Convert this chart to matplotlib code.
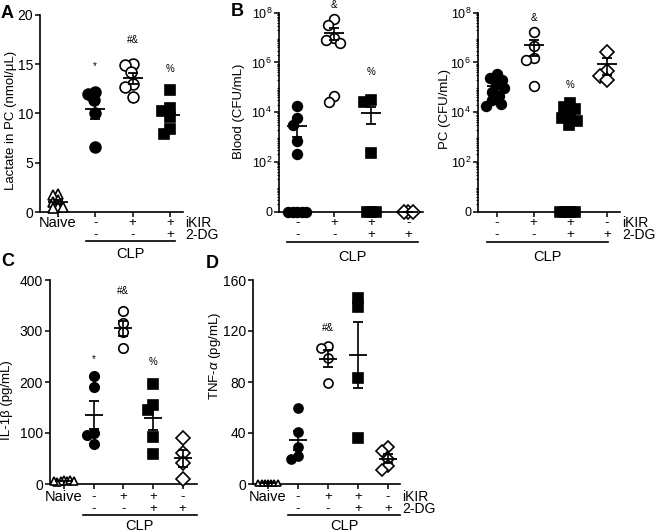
import numpy as np
import matplotlib
matplotlib.use("Agg")
import matplotlib.pyplot as plt
from matplotlib.transforms import blended_transform_factory, ScaledTranslation
from matplotlib.ticker import FixedLocator

plt.rcParams["font.family"] = ["Liberation Sans", "DejaVu Sans"]
plt.rcParams["mathtext.fontset"] = "custom"
plt.rcParams["mathtext.rm"] = "Liberation Sans"
plt.rcParams["mathtext.it"] = "Liberation Sans:italic"
plt.rcParams["mathtext.default"] = "regular"

# A: lactate in peritoneal cavity (nmol/uL)
A_naive = [1.8, 1.7, 1.2, 1.0, 0.5, 0.5, 0.4]
A_clp = [12.2, 12.0, 11.4, 10.0, 6.6]
A_ikir = [15.0, 14.9, 14.2, 13.0, 12.7, 11.7]
A_ikir_2dg = [12.4, 10.6, 10.3, 9.6, 8.4, 7.9]

# B: bacterial counts (CFU/mL), 0 = no growth
blood_clp = [1.7e4, 5.9e3, 3.2e3, 690, 200, 0, 0, 0, 0, 0]
blood_ikir = [5.4e7, 3.2e7, 9.3e6, 8e6, 5.9e6, 4.4e4, 2.5e4]
blood_ikir_2dg = [3.2e4, 2.5e4, 220, 0, 0, 0]
blood_2dg = [0, 0, 0]

pc_clp = [3.5e5, 2.3e5, 2.0e5, 1.2e5, 9e4, 6.5e4, 4.5e4, 3e4, 2.2e4, 1.8e4]
pc_ikir = [1.7e7, 4.5e6, 1.5e6, 1.2e6, 1.1e5]
pc_ikir_2dg = [2.4e4, 1.6e4, 1.3e4, 6.9e3, 5.9e3, 4.4e3, 3.2e3, 0, 0, 0, 0]
pc_2dg = [2.7e6, 4.4e5, 2.8e5, 1.9e5]

# C: IL-1b (pg/mL)
C_naive = [8, 6, 5, 7, 4, 6, 5]
C_clp = [212, 190, 100, 97, 78]
C_ikir = [340, 315, 298, 267]
C_ikir_2dg = [196, 155, 145, 92, 59]
C_2dg = [90, 60, 42, 10]

# D: TNF-a (pg/mL)
D_naive = [0.5, 0.5, 0.5, 0.5, 0.5, 0.5, 0.5]
D_clp = [60, 41, 29, 22, 20]
D_ikir = [108, 107, 99, 79]
D_ikir_2dg = [146, 139, 83, 36]
D_2dg = [29, 26, 20, 14, 11]

ikir_row = ["-", "+", "+", "-"]
dg_row = ["-", "-", "+", "+"]

# significance marks: (group index, text, height)
A_marks = [(1, "*", 14.8), (2, "#&", 17.5), (3, "%", 14.5)]
blood_marks = [(1, "&", 2.0e8), (2, "%", 4e5)]
pc_marks = [(1, "&", 6.3e7), (2, "%", 1.2e5)]
C_marks = [(1, "*", 244), (2, "#&", 379), (3, "%", 240)]
D_marks = [(2, "#&", 122)]

STYLE = {"tri": ("^", "white"), "fc": ("o", "black"), "oc": ("o", "white"),
         "fs": ("s", "black"), "od": ("D", "white")}

W, H = 659, 532
fig = plt.figure(figsize=(W / 100, H / 100), dpi=100)


def add_axes(l, t, r, b):
    ax = fig.add_axes([l / W, 1 - b / H, (r - l) / W, (b - t) / H])
    for s in ("top", "right"):
        ax.spines[s].set_visible(False)
    for s in ("left", "bottom"):
        ax.spines[s].set_linewidth(1.2)
    ax.tick_params(direction="out", length=3.5, width=1.1, labelsize=10, pad=1.5)
    ax.tick_params(which="minor", direction="out", length=1.8, width=0.8)
    return ax


def below(ax, dy, xdata=True):
    base = blended_transform_factory(ax.transData if xdata else ax.transAxes, ax.transAxes)
    return base + ScaledTranslation(0, -dy / 100, fig.dpi_scale_trans)


def swarm(ax, x0, ys, gap):
    if len(ys) == 0:
        return np.array([])
    pts = ax.transData.transform(np.column_stack([np.full(len(ys), x0), ys]))
    placed = []
    for px, py in pts:
        ivs = []
        for qx, qy in placed:
            dy = abs(py - qy)
            if dy < gap:
                w = np.sqrt(gap ** 2 - dy ** 2)
                ivs.append((qx - w, qx + w))
        cands = [px] + [e for iv in ivs for e in iv]
        cands.sort(key=lambda c: abs(c - px))
        for c in cands:
            if all(not (a + 1e-6 < c < b - 1e-6) for a, b in ivs):
                break
        placed.append((c, py))
    return ax.transData.inverted().transform(np.array(placed))[:, 0]


def draw_groups(ax, groups, ms, gap, mean_w, zero_gap=None, naive_ms=None, naive_gap=4):
    for i, (vals, kind) in enumerate(groups):
        marker, face = STYLE[kind]
        vals = np.asarray(vals, float)
        g = naive_gap if kind == "tri" else gap
        size = (naive_ms or ms) if kind == "tri" else ms
        xs = np.zeros(len(vals))
        nz = vals > 0 if zero_gap else np.ones(len(vals), bool)
        if nz.any():
            xs[nz] = swarm(ax, i, vals[nz], g)
        if (~nz).any():
            xs[~nz] = swarm(ax, i, vals[~nz], zero_gap)
        ax.plot(xs, vals, ls="none", marker=marker, ms=size, mfc=face, mec="black",
                mew=1.2, clip_on=False, zorder=3)
        mean = vals.mean()
        sem = vals.std(ddof=1) / np.sqrt(len(vals))
        ax.errorbar(i, mean, yerr=sem, fmt="_", ms=mean_w, mew=1.3, color="black",
                    elinewidth=1.2, capsize=3.5, capthick=1.2, zorder=4, clip_on=False)


def labels(ax, first, rows, dys, clp, right_labels=True):
    n = len(rows[0]) + first
    ax.set_xticks(range(n))
    ax.set_xticklabels([])
    if first:
        ax.text(0, 0, "Naive", transform=below(ax, dys[0]), ha="center", va="center", fontsize=10.5)
    for r, row in enumerate(rows):
        for j, t in enumerate(row):
            ax.text(j + first, 0, t, transform=below(ax, dys[r]), ha="center", va="center", fontsize=9.5)
    if right_labels:
        for r, t in enumerate(["iKIR", "2-DG"]):
            ax.text(1, 0, t, transform=below(ax, dys[r], xdata=False) +
                    ScaledTranslation(0.02, 0, fig.dpi_scale_trans),
                    ha="left", va="center", fontsize=10)
    x0, x1, dl, dt = clp
    ax.plot([x0, x1], [0, 0], color="black", lw=1.2, transform=below(ax, dl), clip_on=False)
    ax.text((x0 + x1) / 2, 0, "CLP", transform=below(ax, dt), ha="center", va="center", fontsize=10.5)


def marks(ax, items):
    for i, t, y in items:
        ax.text(i, y, t, ha="center", va="center", fontsize=7)


def log_axis(ax):
    fwd = lambda y: np.log10(np.maximum(y, 1))
    inv = lambda v: 10.0 ** v
    ax.set_yscale("function", functions=(fwd, inv))
    ax.set_ylim(1, 1e8)
    ax.yaxis.set_major_locator(FixedLocator([1, 1e2, 1e4, 1e6, 1e8]))
    ax.set_yticklabels(["0", "$10^{2}$", "$10^{4}$", "$10^{6}$", "$10^{8}$"])
    ax.yaxis.set_minor_locator(FixedLocator([k * 10.0 ** n for n in range(8) for k in range(2, 10)]))
    ax.tick_params(axis="y", labelsize=9)


# ---- A
axA = add_axes(40, 15, 183, 212)
axA.set_xlim(-0.48, 3.35)
axA.set_ylim(0, 20)
axA.set_yticks([0, 5, 10, 15, 20])
axA.set_ylabel("Lactate in PC (nmol/\u03bcL)", fontsize=9.5)
axA.yaxis.set_label_coords(-0.16, 0.467)
draw_groups(axA, [(A_naive, "tri"), (A_clp, "fc"), (A_ikir, "oc"), (A_ikir_2dg, "fs")],
            ms=7.8, gap=8, mean_w=14, naive_gap=5.5)
labels(axA, 1, [ikir_row[:3], dg_row[:3]], [11, 23], (0.76, 3.13, 29, 42))
marks(axA, A_marks)

# ---- B blood
axB = add_axes(279, 12.7, 423, 211.7)
axB.set_xlim(-0.49, 3.4)
log_axis(axB)
axB.set_ylabel("Blood (CFU/mL)", fontsize=9.5)
axB.yaxis.set_label_coords(-0.235, 0.506)
draw_groups(axB, [(blood_clp, "fc"), (blood_ikir, "oc"), (blood_ikir_2dg, "fs"), (blood_2dg, "od")],
            ms=7, gap=8, mean_w=14, zero_gap=4.5)
labels(axB, 0, [ikir_row, dg_row], [11, 23], (-0.27, 3.27, 30, 45), right_labels=False)
marks(axB, blood_marks)

# ---- B peritoneal cavity
axP = add_axes(478, 12.7, 620, 211.7)
axP.set_xlim(-0.52, 3.36)
log_axis(axP)
axP.set_ylabel("PC (CFU/mL)", fontsize=9.5)
axP.yaxis.set_label_coords(-0.19, 0.515)
draw_groups(axP, [(pc_clp, "fc"), (pc_ikir, "oc"), (pc_ikir_2dg, "fs"), (pc_2dg, "od")],
            ms=7, gap=8, mean_w=14, zero_gap=5)
labels(axP, 0, [ikir_row, dg_row], [11, 23], (-0.27, 3.03, 30, 45))
marks(axP, pc_marks)

# ---- C
axC = add_axes(50, 280, 197, 484)
axC.set_xlim(-0.47, 4.48)
axC.set_ylim(0, 400)
axC.set_yticks([0, 100, 200, 300, 400])
axC.set_ylabel("IL-1\u03b2 (pg/mL)", fontsize=9.5)
axC.yaxis.set_label_coords(-0.25, 0.41)
draw_groups(axC, [(C_naive, "tri"), (C_clp, "fc"), (C_ikir, "oc"), (C_ikir_2dg, "fs"), (C_2dg, "od")],
            ms=6.8, gap=7, mean_w=13, naive_ms=6.3, naive_gap=3.5)
labels(axC, 1, [ikir_row, dg_row], [13, 25], (0.63, 4.47, 31, 42), right_labels=False)
marks(axC, C_marks)

# ---- D
axD = add_axes(253, 280, 400, 484)
axD.set_xlim(-0.5, 4.4)
axD.set_ylim(0, 160)
axD.set_yticks([0, 40, 80, 120, 160])
axD.set_ylabel("TNF-$\\mathit{\\alpha}$ (pg/mL)", fontsize=9.5)
axD.yaxis.set_label_coords(-0.204, 0.63)
draw_groups(axD, [(D_naive, "tri"), (D_clp, "fc"), (D_ikir, "oc"), (D_ikir_2dg, "fs"), (D_2dg, "od")],
            ms=6.5, gap=7, mean_w=13, naive_ms=5, naive_gap=3.2)
labels(axD, 1, [ikir_row, dg_row], [13, 25], (0.67, 4.4, 31, 42))
marks(axD, D_marks)

for t, x, y in [("A", 7, 13), ("B", 237, 12), ("C", 8, 262), ("D", 212, 264)]:
    fig.text(x / W, 1 - y / H, t, fontsize=13, fontweight="bold", ha="center", va="center")

fig.savefig("out.png", dpi=100)
